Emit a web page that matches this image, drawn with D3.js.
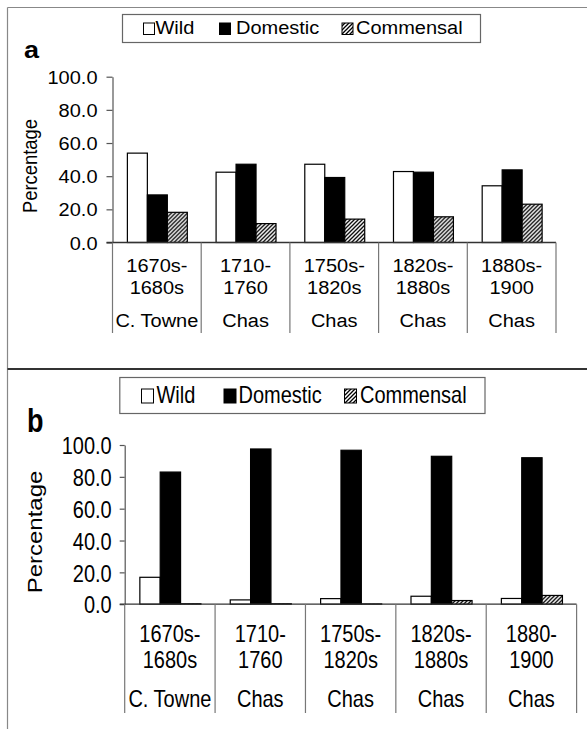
<!DOCTYPE html>
<html><head><meta charset="utf-8">
<script src="https://cdn.jsdelivr.net/npm/d3@7"></script>
<style>
html,body{margin:0;padding:0;background:#fff;}
svg{display:block;}
text{font-family:"Liberation Sans",Arial,sans-serif;fill:#000;}
</style></head>
<body>
<script>
// ---- data ----
const seriesNames = ["Wild", "Domestic", "Commensal"];
const categoriesA = [["1670s-","1680s","C. Towne"],["1710-","1760","Chas"],["1750s-","1820s","Chas"],["1820s-","1880s","Chas"],["1880s-","1900","Chas"]];
const categoriesB = [["1670s-","1680s","C. Towne"],["1710-","1760","Chas"],["1750s-","1820s","Chas"],["1820s-","1880s","Chas"],["1880-","1900","Chas"]];
const wildA      = [53.9, 42.4, 47.2, 42.8, 34.2];
const domesticA  = [28.7, 47.2, 39.2, 42.4, 43.8];
const commensalA = [18.2, 11.4, 14.1, 15.5, 23.1];
const wildB      = [16.9, 2.7, 3.5, 5.0, 3.6];
const domesticB  = [83.0, 97.5, 96.7, 92.9, 92.0];
const commensalB = [0.3, 0.3, 0.2, 2.3, 5.5];
const yTicks = [0, 20, 40, 60, 80, 100];

const W = 587, H = 729;
const svg = d3.select("body").append("svg").attr("width", W).attr("height", H);
const defs = svg.append("defs");
const pat = defs.append("pattern").attr("id","hatch").attr("patternUnits","userSpaceOnUse")
  .attr("width",4).attr("height",4);
pat.append("rect").attr("width",4).attr("height",4).attr("fill","#fff");
pat.append("path").attr("d","M-1,1 l2,-2 M0,4 l4,-4 M3,5 l2,-2").attr("stroke","#000").attr("stroke-width",1.3);

const fills = {Wild:"#fff", Domestic:"#000", Commensal:"url(#hatch)"};

// frame
svg.append("line").attr("x1",7.5).attr("x2",W).attr("y1",7.5).attr("y2",7.5).attr("stroke","#888").attr("stroke-width",1.2);
svg.append("line").attr("x1",7.5).attr("x2",7.5).attr("y1",7.5).attr("y2",H).attr("stroke","#888").attr("stroke-width",1.2);
svg.append("line").attr("x1",7.5).attr("x2",W).attr("y1",369).attr("y2",369).attr("stroke","#333").attr("stroke-width",2);

function txt(g, x, y, s, sy, opts) {
  opts = opts || {};
  const t = g.append("text")
    .attr("transform", `translate(${x},${y}) scale(1,${sy})` + (opts.rotate ? ` rotate(${opts.rotate})` : ""))
    .attr("font-size", opts.size || 20)
    .attr("text-anchor", opts.anchor || "start")
    .text(s);
  if (opts.bold) t.attr("font-weight","bold");
  return t;
}

function panel(cfg) {
  const g = svg.append("g");
  const sy = cfg.sy;
  const data = cfg.cats.map((c,i)=>({cat:i, lines:c, vals:{Wild:cfg.wild[i], Domestic:cfg.dom[i], Commensal:cfg.com[i]}}));
  const x = d3.scaleBand().domain(d3.range(cfg.cats.length)).range(cfg.xr).padding(0);
  const xs = d3.scaleBand().domain(seriesNames).range([0, x.bandwidth()]).paddingInner(0).paddingOuter(0.72);
  const y = d3.scaleLinear().domain([0,100]).range(cfg.yr);

  // legend
  const L = cfg.legend;
  g.append("rect").attr("x",L.x0).attr("y",L.y0).attr("width",L.x1-L.x0).attr("height",L.y1-L.y0)
    .attr("fill","#fff").attr("stroke","#666").attr("stroke-width",1.2);
  seriesNames.forEach((s,i)=>{
    g.append("rect").attr("x",L.sq[i]+0.5).attr("y",L.sqy0+0.5).attr("width",L.sqw).attr("height",L.sqy1-L.sqy0)
      .attr("fill",fills[s]).attr("stroke","#000").attr("stroke-width",1);
    txt(g, L.tx[i], L.base, s, sy, {size:20});
  });

  // panel letter
  txt(g, cfg.letter.x, cfg.letter.y, cfg.letter.s, sy, {size:27, bold:true});

  // y axis
  const ya = g.append("g").attr("transform",`translate(${cfg.xr[0]},0)`)
    .call(d3.axisLeft(y).tickValues(yTicks).tickFormat(d3.format(".1f")).tickSize(cfg.tick).tickSizeOuter(0).tickPadding(cfg.pad));
  ya.select(".domain").attr("stroke","#555").attr("stroke-width",1.2);
  ya.selectAll(".tick line").attr("stroke","#555").attr("stroke-width",1.2);
  ya.selectAll(".tick text").attr("font-size",20).attr("font-family","Liberation Sans, Arial, sans-serif")
    .attr("fill","#000").attr("dy",null).attr("y",7.2).attr("transform",`scale(1,${sy})`);

  // y label
  txt(g, cfg.ylab.x, cfg.ylab.y, "Percentage", sy, {size:20, anchor:"middle", rotate:-90});

  // bars
  const grp = g.selectAll(".grp").data(data).join("g").attr("transform",d=>`translate(${x(d.cat)},0)`);
  grp.selectAll("rect").data(d=>seriesNames.map(s=>({s, v:d.vals[s]}))).join("rect")
    .attr("x",d=>xs(d.s)+0.5).attr("width",xs.bandwidth())
    .attr("y",d=>y(d.v)).attr("height",d=>y(0)-y(d.v))
    .attr("fill",d=>fills[d.s]).attr("stroke","#000").attr("stroke-width",1.2);

  // baseline and dividers
  g.append("line").attr("x1",cfg.xr[0]-cfg.tick).attr("x2",cfg.xr[1]).attr("y1",y(0)).attr("y2",y(0))
    .attr("stroke","#333").attr("stroke-width",1.3);
  const edges = d3.range(cfg.cats.length).map(i=>x(i)).concat([cfg.xr[1]]);
  g.selectAll(".div").data(edges).join("line")
    .attr("x1",d=>d).attr("x2",d=>d).attr("y1",y(0)).attr("y2",cfg.divEnd)
    .attr("stroke","#777").attr("stroke-width",1.2);

  // category labels
  data.forEach(d=>{
    const cx = x(d.cat) + x.bandwidth()/2;
    d.lines.forEach((ln,j)=>{
      txt(g, cx, cfg.labY[j], ln, sy, {size:20, anchor:"middle"});
    });
  });
}

panel({
  cats: categoriesA, wild: wildA, dom: domesticA, com: commensalA,
  xr: [112.5, 556], yr: [242.5, 76.7], sy: 0.92, tick: 6, pad: 9,
  legend: {x0:122.5, x1:480.5, y0:14.5, y1:42.5, sq:[143,219,341.5], sqw:11, sqy0:22.5, sqy1:34, tx:[155.5,236,356], base:34.3},
  letter: {x:24, y:58, s:"a"},
  ylab: {x:37, y:166},
  divEnd: 333, labY: [271.7, 294, 326.7]
});

panel({
  cats: categoriesB, wild: wildB, dom: domesticB, com: commensalB,
  xr: [124.7, 576.6], yr: [604.2, 445], sy: 1.2, tick: 5, pad: 8,
  legend: {x0:119.8, x1:485, y0:377.5, y1:413.5, sq:[141,223.5,344], sqw:12, sqy0:388.5, sqy1:402.5, tx:[156.5,238.5,360], base:402.7},
  letter: {x:27, y:432, s:"b"},
  ylab: {x:41.5, y:532},
  divEnd: 713, labY: [641.7, 668.3, 706.7]
});
</script>
</body></html>
